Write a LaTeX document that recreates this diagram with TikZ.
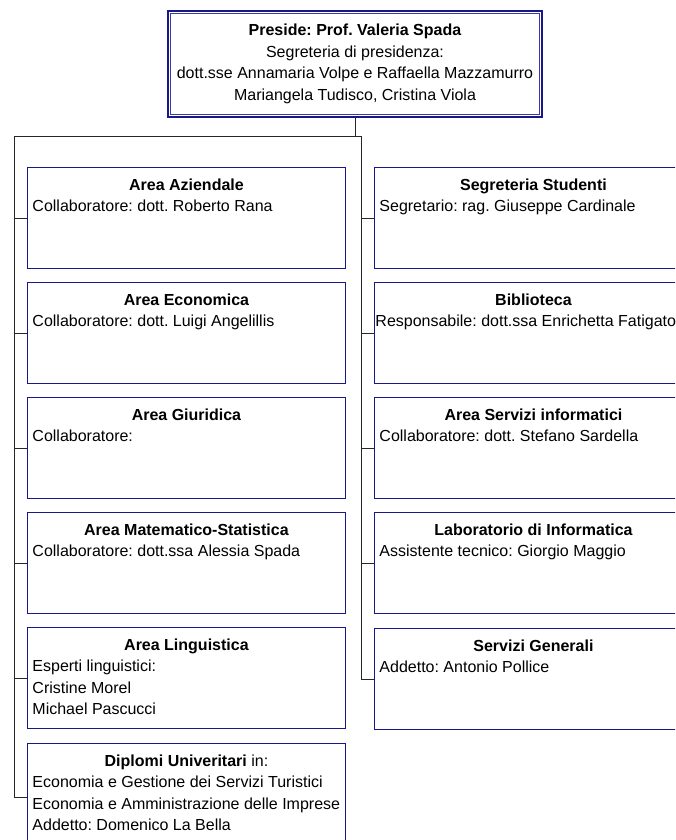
\documentclass[tikz,border=0pt]{standalone}
\usepackage{fontspec}
\setmainfont{Liberation Sans}
\frenchspacing
\definecolor{boxblue}{RGB}{24,24,140}
\tikzset{
  unitbox/.style={draw=boxblue, line width=.9pt, anchor=north west, inner sep=0pt},
  conn/.style={draw=black!85, line width=.8pt}
}
% box text: bold centred title, then left-aligned lines
\newcommand\unittext[3][101pt]{\parbox[c][#1][t]{318pt}{\raggedright\leftskip=5pt\parindent=0pt
  {\centering\rule{0pt}{23pt}\bfseries #2\par}#3\par}}
\begin{document}
\begin{tikzpicture}[x=1pt,y=-1pt,font=\fontsize{16}{21.5}\selectfont]
\useasboundingbox (0,0) rectangle (675,840);
\clip (0,0) rectangle (675,840);
\node[draw=boxblue, line width=2pt, anchor=north west, minimum width=374pt, minimum height=106pt, align=center, inner sep=0pt]
  (preside) at (167,10) {\textbf{Preside: Prof. Valeria Spada}\\Segreteria di presidenza:\\
  dott.sse Annamaria Volpe e Raffaella Mazzamurro\\Mariangela Tudisco, Cristina Viola};
\draw[boxblue!85, line width=.8pt] ([shift={(3.5pt,-3.5pt)}]preside.north west) rectangle ([shift={(-3.5pt,3.5pt)}]preside.south east);
% left column
\node[unitbox] (aziendale) at (27,167) {\unittext{Area Aziendale}{Collaboratore: dott. Roberto Rana}};
\node[unitbox] (economica) at (27,282) {\unittext{Area Economica}{Collaboratore: dott. Luigi Angelillis}};
\node[unitbox] (giuridica) at (27,397) {\unittext{Area Giuridica}{Collaboratore:}};
\node[unitbox] (matematica) at (27,512) {\unittext{Area Matematico-Statistica}{Collaboratore: dott.ssa Alessia Spada}};
\node[unitbox] (linguistica) at (27,627) {\unittext{Area Linguistica}{Esperti linguistici:\\Cristine Morel\\Michael Pascucci}};
\node[unitbox] (diplomi) at (27,743) {\unittext[108pt]{Diplomi Univeritari\mdseries{} in:}{Economia e Gestione dei Servizi Turistici\\
  Economia e Amministrazione delle Imprese\\Addetto: Domenico La Bella}};
% right column
\node[unitbox] (segreteria) at (374,167) {\unittext{Segreteria Studenti}{Segretario: rag. Giuseppe Cardinale}};
\node[unitbox] (biblioteca) at (374,282) {\unittext{Biblioteca}{\hspace*{-4pt}Responsabile: dott.ssa Enrichetta Fatigato}};
\node[unitbox] (informatica) at (374,397) {\unittext{Area Servizi informatici}{Collaboratore: dott. Stefano Sardella}};
\node[unitbox] (laboratorio) at (374,512) {\unittext{Laboratorio di Informatica}{Assistente tecnico: Giorgio Maggio}};
\node[unitbox] (generali) at (374,628) {\unittext{Servizi Generali}{Addetto: Antonio Pollice}};
% connectors
\coordinate (lrail) at (14,136);
\coordinate (rrail) at (361,136);
\draw[conn] (preside.south) -- (preside.south |- lrail);
\draw[conn] (lrail) -- (rrail);
\draw[conn] (lrail) |- (diplomi.west);
\draw[conn] (rrail) |- (generali.west);
\foreach \n in {aziendale,economica,giuridica,matematica,linguistica}
  \draw[conn] (lrail |- \n.west) -- (\n.west);
\foreach \n in {segreteria,biblioteca,informatica,laboratorio}
  \draw[conn] (rrail |- \n.west) -- (\n.west);
\end{tikzpicture}
\end{document}
